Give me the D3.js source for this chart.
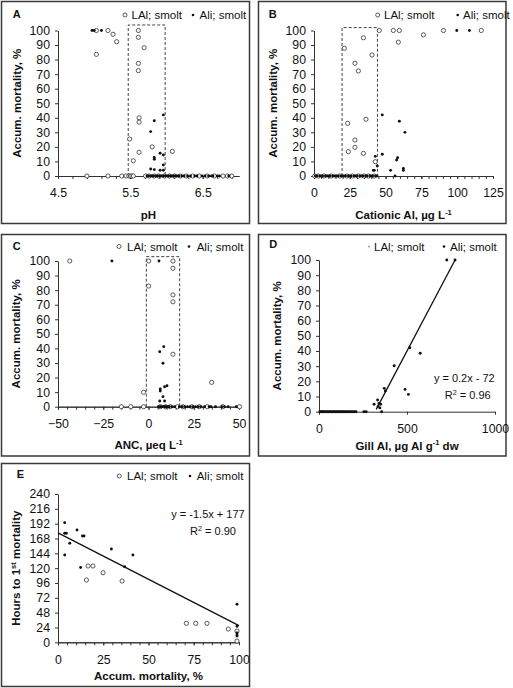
<!DOCTYPE html>
<html>
<head>
<meta charset="UTF-8">
<script src="https://cdn.jsdelivr.net/npm/d3@7"></script>
<style>
  body { margin: 0; background: #fff; }
  svg { font-family: 'Liberation Sans', Arial, Helvetica, sans-serif; }
</style>
</head>
<body>
<svg id="chart" width="513" height="688"></svg>
<script>
// ---- data: [x, accumulated mortality %] ----
var phLAl = [[5.03,100],[5.19,100],[5.26,97.4],[5.31,92.3],[5.03,83.6],
  [5.61,100],[5.61,95.3],[5.69,88.2],[5.61,77.4],[5.61,72.4],
  [5.62,40],[5.62,37],[5.49,25.4],[5.80,20],[5.62,16.3],[6.08,16.9],[5.54,10.5],
  [4.90,0],[5.19,0],[5.38,0],[5.44,0],[5.48,0],[5.50,0],[5.52,0],[5.54,0],[5.71,0],[5.76,0],
  [5.83,0],[5.89,0],[5.97,0],[6.04,0],[6.11,0],[6.19,0],[6.27,0],[6.36,0],[6.45,0],[6.56,0],
  [6.66,0],[6.78,0],[6.84,0],[6.90,0]];
var phAli = [[4.97,100],[5.00,100],[5.10,100],[5.955,42],[5.83,38],[5.78,30.5],[5.91,15.6],
  [5.955,14.4],[5.83,12.8],[5.83,11.5],[5.955,7.6],[5.78,4.8],[5.83,4.4],[5.91,4],[5.955,4],
  [5.73,0],[5.75,0],[5.78,0],[5.80,0],[5.82,0],[5.85,0],[5.87,0],[5.90,0],[5.92,0],[5.94,0],
  [5.96,0],[5.99,0],[6.01,0],[6.03,0],[6.06,0],[6.08,0],[6.10,0],[6.13,0],[6.15,0],[6.17,0],
  [6.21,0],[6.24,0],[6.29,0],[6.33,0],[6.39,0],[6.42,0],[6.49,0],[6.53,0],[6.58,0],[6.62,0],
  [6.64,0],[6.70,0],[6.73,0],[6.86,0]];

var calLAl = [[21.2,87.8],[28.6,77.5],[31,72.2],[34.5,95],[40.5,83.2],[45.6,100],[55.4,100],
  [59.6,100],[58.9,92],[76.4,97],[90.4,100],[116.8,100],[23.5,36.2],[36.3,39],[28.6,24.7],
  [28.6,19.7],[24,16.7],[34.5,15.6],[42.8,9.8],
  [0.5,0],[3,0],[7,0],[12,0],[18,0],[23,0],[27,0],[31,0],[35,0],[38,0],[42,0]];
var calAli = [[99.7,100],[108.5,100],[47.7,42],[59.6,37.6],[63.5,30],[42.8,13.5],[47.7,14.9],
  [44.2,6.9],[57.7,11],[58.4,12.6],[41.4,3.9],[42.1,3.9],[53.5,3.9],[62.4,5.2],[62.4,3.9],[56.6,0],
  [1,0],[2,0],[4,0],[5,0],[6,0],[8,0],[9,0],[10,0],[11,0],[13,0],[14,0],[15,0],[16,0],[17,0],
  [19,0],[20,0],[21,0],[22,0],[24,0],[25,0],[26,0],[28,0],[29,0],[30,0],[32,0],[33,0],[34,0],
  [36,0],[37,0],[39,0],[40,0],[41,0],[43,0],[44,0]];

var ancLAl = [[-43.5,100],[0.1,100],[13.5,100],[13.5,95],[0.1,82.8],[13.5,76.7],[13.5,72],
  [13.5,36],[-2.7,9.9],[34.9,16.7],
  [-15,0],[-9.8,0],[-2.7,0],[6.5,0],[9.5,0],[12,0],[16,0],[19,0],[24,0],[28,0],[32.5,0],[41,0],[50.3,0]];
var ancAli = [[-20.2,100],[5.8,100],[8.4,41.2],[6.2,37.7],[8,29.8],[8.9,13.7],[10.2,14.4],
  [6.5,12.1],[6.5,10.8],[8,6.9],[6.2,3.9],[8.9,3.9],
  [5.5,0],[6.5,0],[7.2,0],[8,0],[8.7,0],[9.3,0],[10,0],[10.8,0],[11.5,0],[13,0],[14.5,0],[17,0],
  [18.5,0],[20,0],[21.5,0],[23,0],[24.5,0],[26,0],[27.5,0],[29,0],[31,0],[33.5,0],[34.5,0],
  [37,0],[40.5,0],[42,0],[44,0],[48.5,0]];

var gillLAl = [];
var gillAli = [[726,100],[773,100],[516,42.2],[575,38.5],[427,30.3],[371,15.4],[377,13.6],
  [489,14.7],[508,11.4],[333,7.7],[341,5.5],[313,4.9],[350,4.9],[336,3.5],[346,2.5],[356,0],
  [5,0],[12,0],[18,0],[25,0],[32,0],[40,0],[48,0],[55,0],[62,0],[70,0],[78,0],[85,0],[93,0],
  [100,0],[108,0],[115,0],[123,0],[130,0],[138,0],[146,0],[155,0],[163,0],[172,0],[180,0],
  [190,0],[200,0],[210,0],[255,0],[268,0]];

// E: [accumulated mortality %, hours to 1st mortality]
var hoursLAl = [[16.6,123.5],[19.3,123.5],[15.7,100.8],[24.9,112.6],[35.4,99.2],[70.9,30.7],
  [76.1,30.7],[82.3,30.7],[94.1,21.5],[98.9,18.3],[98.9,2]];
var hoursAli = [[3.7,193.6],[3.7,176.4],[4.6,176.4],[10.5,181.7],[13.5,172],[14.4,172],
  [6.5,160.2],[3.7,141.3],[29.5,151],[41.4,141.3],[12.5,121],[36.8,122.3],[98.9,61.5],
  [98.9,26],[98.9,15],[98.9,12],[98.9,10]];

// trend lines (end points) and dashed windows [x0, x1, top]
var gillFit = [[325,1.5],[773,100]];
var hoursFit = [[0,177],[100,27]];
var phBox = [5.47, 5.98, 103.8];
var calBox = [19.6, 44.3, 102];
var ancBox = [-1.2, 17.2, 103];

var mortTicks = [0,10,20,30,40,50,60,70,80,90,100];
var hourTicks = [0,24,48,72,96,120,144,168,192,216,240];
var phTicks = [4.5,5.5,6.5];
var calTicks = [0,25,50,75,100,125];
var ancTicks = [-50,-25,0,25,50];
var gillTicks = [0,500,1000];
var pctTicks = [0,25,50,75,100];
var legendLabels = ["LAl; smolt", "Ali; smolt"];

var svg = d3.select("#chart");

// text with optional superscript parts (given as one-item arrays)
function addText(g, parts, x, y, opts) {
  var t = g.append("text").attr("x", x).attr("y", y)
    .attr("font-size", opts.size).attr("fill", "#111")
    .attr("text-anchor", opts.anchor || "start");
  if (opts.bold) t.attr("font-weight", "bold");
  if (opts.rotate) t.attr("transform", "rotate(-90," + x + "," + y + ")");
  var shift = opts.size * 0.38, raised = false;
  parts.forEach(function(p) {
    if (typeof p === "string") {
      var s = t.append("tspan").text(p);
      if (raised) { s.attr("dy", shift); raised = false; }
    } else {
      t.append("tspan").attr("font-size", opts.size * 0.65).attr("dy", -shift).text(p[0]);
      raised = true;
    }
  });
  return t;
}

function drawPanel(p) {
  var x = d3.scaleLinear().domain(p.xDomain).range([p.left, p.right]);
  var y = d3.scaleLinear().domain(p.yDomain).range([p.bottom, p.top]);
  var g = svg.append("g");

  g.append("rect").attr("x", p.frame[0]).attr("y", p.frame[1])
    .attr("width", p.frame[2]).attr("height", p.frame[3])
    .attr("fill", "none").attr("stroke", "#3a3a3a").attr("stroke-width", 1.5);

  addText(g, [p.letter], p.letterPos[0], p.letterPos[1], {size: 11, bold: true});

  // dashed window
  if (p.window) {
    var w = p.window;
    g.append("path")
      .attr("d", "M" + x(w[0]) + "," + y(0) + "V" + y(w[2]) + "H" + x(w[1]) + "V" + y(0))
      .attr("fill", "none").attr("stroke", "#444").attr("stroke-width", 1)
      .attr("stroke-dasharray", "3,2");
  }

  if (p.xMinor) {
    g.append("g").attr("transform", "translate(0," + p.bottom + ")")
      .call(d3.axisBottom(x).tickValues(p.xMinor).tickSize(3).tickSizeOuter(0).tickFormat(""));
  }
  g.append("g").attr("transform", "translate(0," + p.bottom + ")")
    .call(d3.axisBottom(x).tickValues(p.xTicks).tickSize(3).tickSizeOuter(0)
      .tickPadding(9.5).tickFormat(p.xFormat));
  g.append("g").attr("transform", "translate(" + p.left + ",0)")
    .call(d3.axisLeft(y).tickValues(p.yTicks).tickSize(3).tickSizeOuter(0).tickPadding(5));
  g.selectAll(".domain, .tick line").attr("stroke", "#333");
  g.selectAll(".tick text").attr("font-size", 12.3).attr("fill", "#111")
    .attr("font-family", "'Liberation Sans', Arial, sans-serif");

  // axis titles
  addText(g, p.xTitle, (p.left + p.right) / 2, p.bottom + p.xTitleOff, {size: 11.5, bold: true, anchor: "middle"});
  addText(g, p.yTitle, p.left - 37.5, (p.top + p.bottom) / 2, {size: 11.5, bold: true, anchor: "middle", rotate: true});

  // fit line
  if (p.fit) {
    g.append("path").datum(p.fit)
      .attr("d", d3.line().x(function(d) { return x(d[0]); }).y(function(d) { return y(d[1]); }))
      .attr("stroke", "#111").attr("stroke-width", 1.3).attr("fill", "none");
    addText(g, p.eq[0], p.eqPos[0], p.eqPos[1], {size: 11, anchor: "middle"});
    addText(g, p.eq[1], p.eqPos[2], p.eqPos[3], {size: 11, anchor: "middle"});
  }

  // points
  g.selectAll(".open").data(p.open).enter().append("circle")
    .attr("cx", function(d) { return x(d[0]); })
    .attr("cy", function(d) { return y(d[1]); })
    .attr("r", 2.1)
    .attr("fill", "#fff").attr("stroke", "#333").attr("stroke-width", 0.8);
  g.selectAll(".fill").data(p.filled).enter().append("circle")
    .attr("cx", function(d) { return x(d[0]); })
    .attr("cy", function(d) { return y(d[1]); })
    .attr("r", 1.45).attr("fill", "#111");

  // legend
  var L = p.legend, by = L[4];
  if (p.tinyLegend) {
    g.append("circle").attr("cx", L[0]).attr("cy", by - 4).attr("r", 1).attr("fill", "#999");
  } else {
    g.append("circle").attr("cx", L[0]).attr("cy", by - 4).attr("r", 2)
      .attr("fill", "#fff").attr("stroke", "#333").attr("stroke-width", 0.8);
  }
  addText(g, [legendLabels[0]], L[1], by, {size: 11.5});
  g.append("circle").attr("cx", L[2]).attr("cy", by - 4).attr("r", 1.3).attr("fill", "#111");
  addText(g, [legendLabels[1]], L[3], by, {size: 11.5});
}

var mortTitle = ["Accum. mortality, %"];

drawPanel({
  letter: "A", letterPos: [12.7, 18.3], frame: [1.5, 1.5, 248, 222],
  left: 58, right: 239, top: 30.5, bottom: 176,
  xDomain: [4.5, 7.0], yDomain: [0, 100],
  xTicks: phTicks, xMinor: d3.range(4.5, 7.0, 0.2), xFormat: d3.format(".1f"), yTicks: mortTicks,
  xTitle: ["pH"], xTitleOff: 42.5, yTitle: mortTitle,
  window: phBox, open: phLAl, filled: phAli,
  legend: [125, 131.5, 193, 199.5, 19]
});

drawPanel({
  letter: "B", letterPos: [268.7, 18.3], frame: [258.5, 1.5, 247.5, 222],
  left: 314, right: 493, top: 30.5, bottom: 176,
  xDomain: [0, 125], yDomain: [0, 100],
  xTicks: calTicks, xMinor: d3.range(0, 125, 5), xFormat: d3.format("d"), yTicks: mortTicks,
  xTitle: ["Cationic Al, µg L", ["-1"]], xTitleOff: 43, yTitle: mortTitle,
  window: calBox, open: calLAl, filled: calAli,
  legend: [377.7, 384, 457.7, 463, 19]
});

drawPanel({
  letter: "C", letterPos: [12.7, 250], frame: [1.5, 234.5, 248, 221.5],
  left: 58, right: 239, top: 261, bottom: 406.7,
  xDomain: [-50, 50], yDomain: [0, 100],
  xTicks: ancTicks, xMinor: d3.range(-50, 50, 5), xFormat: d3.format("d"), yTicks: mortTicks,
  xTitle: ["ANC, µeq L", ["-1"]], xTitleOff: 42.5, yTitle: mortTitle,
  window: ancBox, open: ancLAl, filled: ancAli,
  legend: [119, 127, 189, 196.7, 250.5]
});

drawPanel({
  letter: "D", letterPos: [269.3, 247.7], frame: [258.5, 234.5, 247.5, 221.5],
  left: 319, right: 495, top: 260, bottom: 411.7,
  xDomain: [0, 1000], yDomain: [0, 100],
  xTicks: gillTicks, xFormat: d3.format("d"), yTicks: mortTicks,
  xTitle: ["Gill Al, µg Al g", ["-1"], " dw"], xTitleOff: 38, yTitle: mortTitle,
  open: gillLAl, filled: gillAli, tinyLegend: true,
  fit: gillFit, eq: [["y = 0.2x - 72"], ["R", ["2"], " = 0.96"]], eqPos: [464.3, 381.7, 467.7, 399],
  legend: [369, 374, 444, 450, 250.5]
});

drawPanel({
  letter: "E", letterPos: [16.7, 478], frame: [1.5, 463.5, 248, 223],
  left: 58, right: 239, top: 494, bottom: 642.3,
  xDomain: [0, 100], yDomain: [0, 240],
  xTicks: pctTicks, xMinor: d3.range(0, 100, 5), xFormat: d3.format("d"), yTicks: hourTicks,
  xTitle: ["Accum. mortality, %"], xTitleOff: 37.5, yTitle: ["Hours to 1", ["st"], " mortality"],
  open: hoursLAl, filled: hoursAli,
  fit: hoursFit, eq: [["y = -1.5x + 177"], ["R", ["2"], " = 0.90"]], eqPos: [208, 518.3, 213, 535],
  legend: [119.3, 127, 190, 196.7, 480]
});
</script>
</body>
</html>
